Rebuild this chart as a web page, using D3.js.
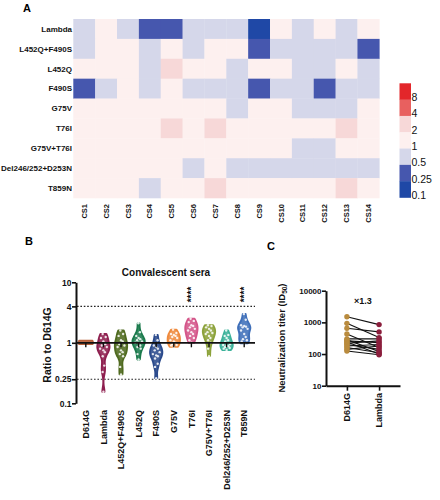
<!DOCTYPE html>
<html><head><meta charset="utf-8">
<script src="https://cdn.jsdelivr.net/npm/d3@7"></script>
<style>
html,body{margin:0;padding:0;background:#fff;}
svg{display:block;font-family:"Liberation Sans",Arial,sans-serif;}
</style></head>
<body><svg id="c" width="440" height="500"></svg>
<script>
// ---------- DATA ----------
const sera = ["CS1","CS2","CS3","CS4","CS5","CS6","CS7","CS8","CS9","CS10","CS11","CS12","CS13","CS14"];
const variants = ["Lambda","L452Q+F490S","L452Q","F490S","G75V","T76I","G75V+T76I","Del246/252+D253N","T859N"];
// fold change (ratio to D614G) per serum CS1..CS14
const lambdaRatio   = [0.85,1.4,0.7,0.42,0.33,0.9,0.75,0.6,0.155,1.2,0.95,1.05,0.8,1.25];
const l452qF490sRatio = [0.9,1.3,1.1,0.75,1.6,0.65,1.4,1.05,0.3,0.85,0.7,0.95,0.6,0.4];
const l452qRatio    = [1.1,1.0,1.3,0.8,2.1,1.05,1.2,0.9,1.5,1.0,0.65,0.53,1.15,0.85];
const f490sRatio    = [0.26,0.75,1.35,0.65,1.1,0.8,0.6,0.9,0.45,0.7,0.55,0.4,0.85,0.62];
const g75vRatio     = [1.3,1.1,1.4,1.2,1.65,1.0,1.35,0.9,1.05,1.25,0.95,0.86,0.92,1.45];
const t76iRatio     = [1.6,1.3,1.8,1.2,2.5,1.9,2.2,1.5,1.0,1.95,1.4,1.7,2.3,1.1];
const g75vT76iRatio = [1.5,1.9,1.3,1.7,1.95,1.2,1.6,1.4,1.1,1.8,0.8,0.6,1.45,1.0];
const delRatio      = [1.3,1.1,1.6,1.2,1.35,0.85,1.05,0.9,0.8,0.95,0.76,0.88,0.92,0.82];
const t859nRatio    = [1.9,1.4,1.7,0.98,1.15,1.8,3.0,1.95,1.1,1.6,1.25,1.85,2.4,1.05];
const d614gRatio    = [1.0,1.03,0.97,1.06,1.0,0.95,1.04,1.0,1.09,0.99,1.02,0.96,1.05,1.01];

const legendLabels = ["8","4","2","1","0.5","0.25","0.1"];
const legendColors = ["#e3262a","#e8605f","#f7d8d8","#fdf0ef","#d5d7ea","#4657ae","#1f48a6"];
const heatBreaks = [0.25,0.5,1,2,4,8];

const violinCats = ["D614G","Lambda","L452Q+F490S","L452Q","F490S","G75V","T76I","G75V+T76I","Del246/252+D253N","T859N"];
const violinColors = ["#b7603a","#8e1f4f","#4f6a1f","#1a7a4c","#2a4a8c","#ef8a3d","#d45589","#8ca23a","#3cb29a","#3f6fb9"];
const starCats = ["T76I","T859N"];
const yTicksB = [10,4,1,0.25,0.1];
const dashedB = [4,0.25];

const cCats = ["D614G","Lambda"];
const cD614G  = [1500,930,650,430,300,280,260,240,220,200,180,160,140,125];
const cLambda = [850,330,500,160,300,120,230,100,260,140,200,110,180,95];
const cColors = ["#b98b3e","#8b1e3c"];
const yTicksC = [10,100,1000,10000];
const foldLabel = "×1.3";

const heatRows = [lambdaRatio,l452qF490sRatio,l452qRatio,f490sRatio,g75vRatio,t76iRatio,g75vT76iRatio,delRatio,t859nRatio];
const violinData = [d614gRatio].concat(heatRows);

// ---------- DRAW ----------
const svg = d3.select("#c");
const FONT = "'Liberation Sans',Arial,sans-serif";

// Panel labels
svg.append("text").attr("x",23).attr("y",12).attr("font-weight","bold").attr("font-size",11).text("A");
svg.append("text").attr("x",25).attr("y",245).attr("font-weight","bold").attr("font-size",11).text("B");
svg.append("text").attr("x",267).attr("y",250).attr("font-weight","bold").attr("font-size",11).text("C");

// ---- Heatmap ----
const hx = d3.scaleBand().domain(sera).range([73.3,379.3]);
const hy = d3.scaleBand().domain(variants).range([19,198]);
const hcol = d3.scaleThreshold().domain(heatBreaks).range(legendColors.slice().reverse());
const hm = svg.append("g");
heatRows.forEach((row,ri)=>{
  hm.selectAll(null).data(row).enter().append("rect")
    .attr("x",(d,i)=>hx(sera[i])).attr("y",hy(variants[ri]))
    .attr("width",hx.bandwidth()+0.3).attr("height",hy.bandwidth()+0.3)
    .attr("fill",d=>hcol(d));
});
hm.selectAll(null).data(variants).enter().append("text")
  .attr("x",72).attr("y",d=>hy(d)+hy.bandwidth()/2).attr("dy","0.35em")
  .attr("text-anchor","end").attr("font-weight","bold").attr("font-size",8).attr("fill","#111").text(d=>d);
hm.selectAll(null).data(sera).enter().append("text")
  .attr("transform",d=>`translate(${hx(d)+hx.bandwidth()/2},204) rotate(-90)`)
  .attr("dy","0.35em").attr("text-anchor","end").attr("font-weight","bold").attr("font-size",7.5).attr("fill","#111").text(d=>d);

// Legend
const ly = d3.scaleBand().domain(legendLabels).range([83.3,197.5]);
const lg = svg.append("g");
lg.selectAll(null).data(legendLabels).enter().append("rect")
  .attr("x",399.5).attr("y",d=>ly(d)).attr("width",11.5).attr("height",ly.bandwidth()+0.3)
  .attr("fill",(d,i)=>legendColors[i]);
lg.selectAll(null).data(legendLabels).enter().append("text")
  .attr("x",411.5).attr("y",d=>ly(d)+ly.bandwidth()+1.5)
  .attr("font-size",10.5).attr("fill","#111").text(d=>d);

// ---- Panel B violins ----
const bx = d3.scaleBand().domain(violinCats).range([77,253]);
const by = d3.scaleLog().domain([0.1,10]).range([403.3,282.3]);
const gB = svg.append("g");
svg.append("text").attr("x",166).attr("y",276).attr("text-anchor","middle")
  .attr("font-weight","bold").attr("font-size",10).attr("fill","#111").text("Convalescent sera");
svg.append("text").attr("transform","translate(51,345) rotate(-90)").attr("text-anchor","middle")
  .attr("font-weight","bold").attr("font-size",10.5).attr("fill","#111").text("Ratio to D614G");

// dashed ref lines
gB.selectAll(null).data(dashedB).enter().append("line")
  .attr("x1",77).attr("x2",255).attr("y1",d=>by(d)).attr("y2",d=>by(d))
  .attr("stroke","#222").attr("stroke-width",1.1).attr("stroke-dasharray","1.6,1.8");

// violins
const h = 0.07;
violinData.forEach((vals,vi)=>{
  const cat = violinCats[vi];
  const cx = bx(cat)+bx.bandwidth()/2;
  const logs = vals.map(v=>Math.log10(v));
  const lo = d3.min(logs), hi = d3.max(logs);
  const n = 40;
  const pts = d3.range(n+1).map(k=>{
    const t = lo + (hi-lo)*k/n;
    const dens = d3.sum(logs, l=>Math.exp(-0.5*((t-l)/h)**2));
    return {t, dens};
  });
  const dmax = d3.max(pts,p=>p.dens);
  const maxW = vi===0 ? 7.3 : 6.2;
  pts.forEach(p=>p.w = maxW*p.dens/dmax);
  const area = d3.area().curve(d3.curveBasis)
    .y(p=>by(Math.pow(10,p.t))).x0(p=>cx-p.w).x1(p=>cx+p.w);
  gB.append("path").datum(pts).attr("d",area)
    .attr("fill",violinColors[vi]).attr("fill-opacity",0.88)
    .attr("stroke",violinColors[vi]).attr("stroke-width",1.8).attr("stroke-linejoin","round");
  // dots
  if (vi===0) return;
  const order = d3.range(vals.length).sort((a,b)=>vals[a]-vals[b]);
  const pattern = [0,-0.55,0.55,-0.25,0.3];
  order.forEach((idx,k)=>{
    const v = vals[idx];
    const t = Math.log10(v);
    const dens = d3.sum(logs, l=>Math.exp(-0.5*((t-l)/h)**2));
    const w = maxW*dens/dmax;
    gB.append("circle").attr("cx",cx+pattern[k%5]*w).attr("cy",by(v)).attr("r",1.2)
      .attr("fill","#fff").attr("fill-opacity",0.85);
  });
});

// x axis at ratio 1
gB.append("line").attr("x1",77).attr("x2",255).attr("y1",by(1)).attr("y2",by(1))
  .attr("stroke","#111").attr("stroke-width",1.7);
gB.selectAll(null).data(violinCats).enter().append("line")
  .attr("x1",d=>bx(d)+bx.bandwidth()/2).attr("x2",d=>bx(d)+bx.bandwidth()/2)
  .attr("y1",by(1)).attr("y2",by(1)+4.5).attr("stroke","#111").attr("stroke-width",1.4);
gB.selectAll(null).data(violinCats).enter().append("text")
  .attr("transform",d=>`translate(${bx(d)+bx.bandwidth()/2},410) rotate(-90)`)
  .attr("dy","0.35em").attr("text-anchor","end").attr("font-weight","bold").attr("font-size",9).attr("fill","#111").text(d=>d);
// stars
gB.selectAll(null).data(starCats).enter().append("text")
  .attr("transform",d=>`translate(${bx(d)+bx.bandwidth()/2},294.5) rotate(-90)`)
  .attr("dy","0.35em").attr("text-anchor","middle").attr("font-weight","bold").attr("font-size",10).attr("fill","#111").text("****");

// y axis
const yAxB = d3.axisLeft(by).tickValues(yTicksB).tickFormat(d=>String(d)).tickSize(4).tickSizeOuter(0);
const gyB = svg.append("g").attr("transform","translate(76,0)").call(yAxB);
gyB.select(".domain").attr("stroke","#111").attr("stroke-width",2);
gyB.selectAll(".tick line").attr("stroke","#111").attr("stroke-width",1.6);
gyB.selectAll(".tick text").attr("font-weight","bold").attr("font-size",8.5).attr("fill","#111")
  .attr("font-family",FONT).attr("x",-4.5);

// ---- Panel C ----
const cx = d3.scalePoint().domain(cCats).range([326,400]).padding(0.65);
const cy = d3.scaleLog().domain([10,10000]).range([385.7,290.7]);
const gC = svg.append("g");
gC.selectAll(null).data(cD614G).enter().append("line")
  .attr("x1",cx("D614G")).attr("x2",cx("Lambda"))
  .attr("y1",d=>cy(d)).attr("y2",(d,i)=>cy(cLambda[i]))
  .attr("stroke","#111").attr("stroke-width",1.1);
gC.selectAll(null).data(cD614G).enter().append("circle")
  .attr("cx",cx("D614G")).attr("cy",d=>cy(d)).attr("r",2.7).attr("fill",cColors[0]);
gC.selectAll(null).data(cLambda).enter().append("circle")
  .attr("cx",cx("Lambda")).attr("cy",d=>cy(d)).attr("r",2.7).attr("fill",cColors[1]);
gC.append("text").attr("x",363).attr("y",301).attr("dy","0.35em").attr("text-anchor","middle")
  .attr("font-weight","bold").attr("font-size",9).attr("fill","#111").text(foldLabel);

const yAxC = d3.axisLeft(cy).tickValues(yTicksC).tickFormat(d=>String(d)).tickSize(4).tickSizeOuter(0);
const gyC = svg.append("g").attr("transform","translate(326,0)").call(yAxC);
gyC.select(".domain").attr("stroke","#111").attr("stroke-width",2);
gyC.selectAll(".tick line").attr("stroke","#111").attr("stroke-width",1.6);
gyC.selectAll(".tick text").attr("font-weight","bold").attr("font-size",8).attr("fill","#111")
  .attr("font-family",FONT).attr("x",-4.5);

const xAxC = d3.axisBottom(cx).tickSize(5).tickSizeOuter(0).tickFormat("");
const gxC = svg.append("g").attr("transform","translate(0,385.7)").call(xAxC);
gxC.select(".domain").attr("stroke","#111").attr("stroke-width",2);
gxC.selectAll(".tick line").attr("stroke","#111").attr("stroke-width",1.6);
gC.selectAll(null).data(cCats).enter().append("text")
  .attr("transform",d=>`translate(${cx(d)},393) rotate(-90)`)
  .attr("dy","0.35em").attr("text-anchor","end").attr("font-weight","bold").attr("font-size",9).attr("fill","#111").text(d=>d);

const yt = svg.append("text").attr("transform","translate(285,338) rotate(-90)")
  .attr("text-anchor","middle").attr("font-weight","bold").attr("font-size",9.5).attr("fill","#111");
yt.append("tspan").text("Neutralization titer (ID");
yt.append("tspan").attr("font-size",6.5).attr("dy",2).text("50");
yt.append("tspan").attr("dy",-2).text(")");
</script></body></html>
